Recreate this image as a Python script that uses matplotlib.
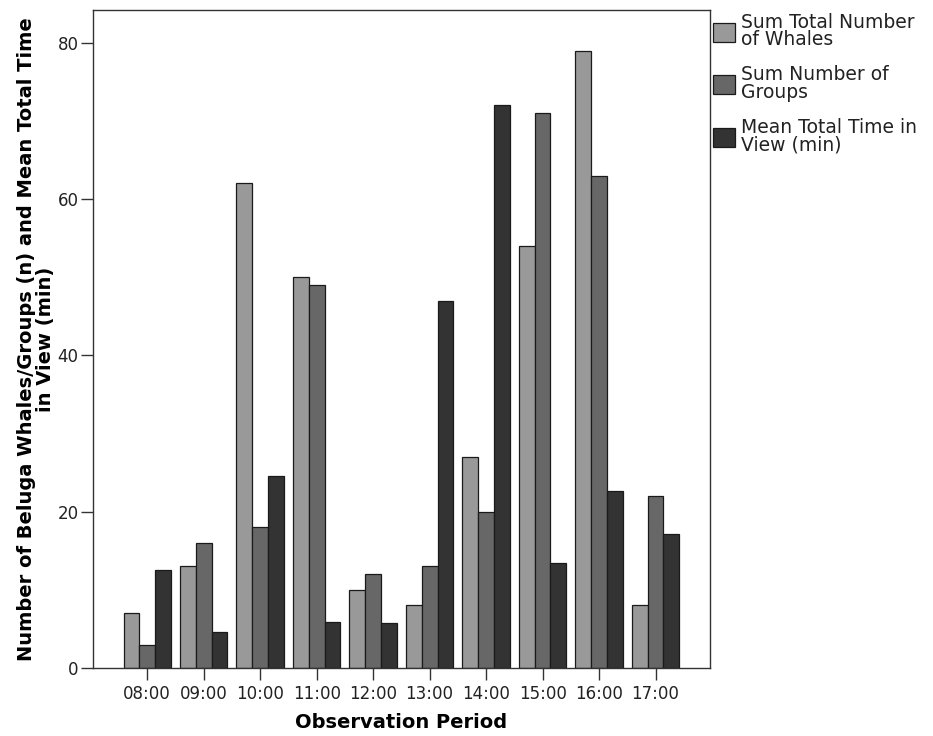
import numpy as np
import matplotlib.pyplot as plt

plt.rcParams['font.family'] = ['DejaVu Sans']

# observation periods
periods = ['08:00', '09:00', '10:00', '11:00', '12:00',
           '13:00', '14:00', '15:00', '16:00', '17:00']

# series
total_whales = [7, 13, 62, 50, 10, 8, 27, 54, 79, 8]
num_groups = [3, 16, 18, 49, 12, 13, 20, 71, 63, 22]
mean_time = [12.6, 4.6, 24.6, 5.9, 5.7, 47.0, 72.1, 13.4, 22.6, 17.2]

labels = ['Sum Total Number\nof Whales', 'Sum Number of\nGroups',
          'Mean Total Time in\nView (min)']
colors = ['#999999', '#676767', '#333333']

fig = plt.figure(figsize=(9.33, 7.36), dpi=100)
ax = fig.add_axes([0.0997, 0.0924, 0.661, 0.894])

x = np.arange(len(periods))
w = 0.28
for i, (vals, lab, c) in enumerate(zip([total_whales, num_groups, mean_time], labels, colors)):
    ax.bar(x + (i - 1) * w, vals, width=w, color=c, edgecolor='#1a1a1a',
           linewidth=0.9, label=lab)

ax.set_xlim(-0.96, len(periods) - 0.04)
ax.set_ylim(0, 84.2)
ax.set_yticks([0, 20, 40, 60, 80])
ax.set_xticks(x)
ax.set_xticklabels(periods)
ax.tick_params(axis='both', labelsize=12, length=8.5, width=1, color='#333333',
               labelcolor='#222222', direction='out')
ax.tick_params(axis='x', pad=4)
ax.tick_params(axis='y', pad=2)
for s in ax.spines.values():
    s.set_color('#333333')
    s.set_linewidth(1)

ax.set_xlabel('Observation Period', fontsize=14, fontweight='bold', labelpad=7)
ax.set_ylabel('Number of Beluga Whales/Groups (n) and Mean Total Time\nin View (min)',
              fontsize=14, fontweight='bold', linespacing=0.95, labelpad=2)

leg = ax.legend(loc='upper left', bbox_to_anchor=(1.0, 1.0), frameon=False,
                fontsize=13.5, handlelength=1.2, handleheight=1.2,
                handletextpad=0.3, labelspacing=0.85, borderaxespad=0.15,
                borderpad=0.0)
for t in leg.get_texts():
    t.set_linespacing(0.9)
    t.set_color('#222222')

fig.savefig('out.png', dpi=100)
